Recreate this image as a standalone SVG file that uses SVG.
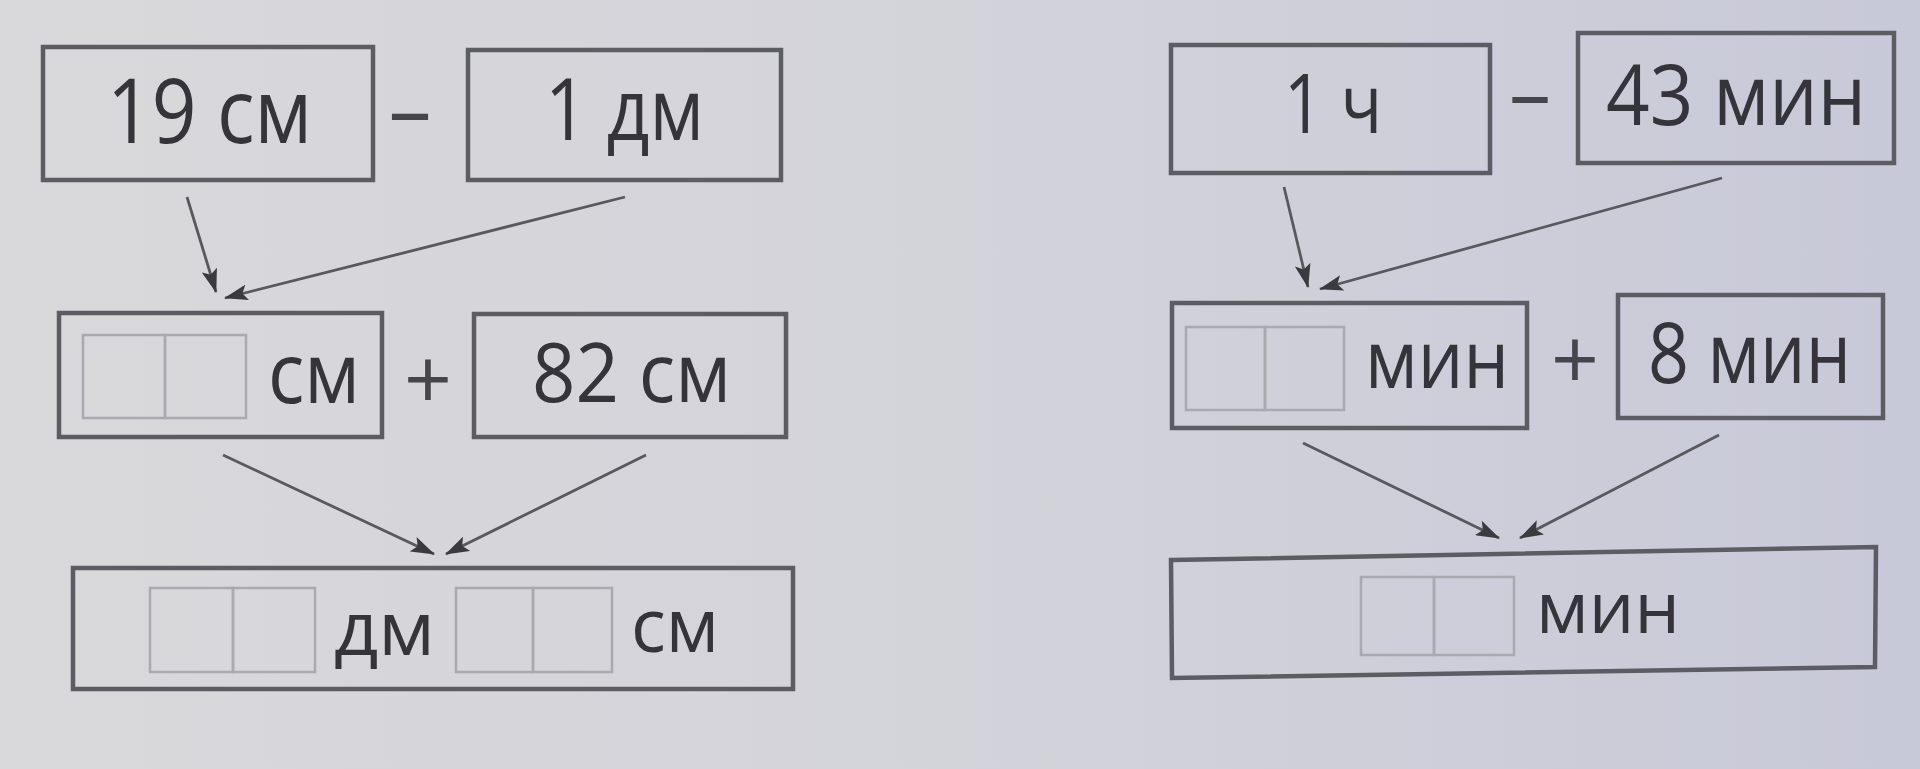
<svg xmlns="http://www.w3.org/2000/svg" width="1920" height="769" viewBox="0 0 1920 769">
<defs>
<linearGradient id="bg" x1="0" y1="0" x2="1" y2="0">
<stop offset="0" stop-color="#d9d8da"/>
<stop offset="0.5" stop-color="#d3d3da"/>
<stop offset="1" stop-color="#c8c9d8"/>
</linearGradient>
<marker id="ah" viewBox="0 0 24 16" refX="23" refY="8" markerWidth="24" markerHeight="16" markerUnits="userSpaceOnUse" orient="auto">
<path d="M0,0 L24,8 L0,16 L5,8 Z" fill="#3a3a40"/>
</marker>
</defs>
<style>
.box{fill:none;stroke:#5c5c63;stroke-width:4.5}
.cell{fill:none;stroke:#a9a9b0;stroke-width:2.5}
.t{font-family:"Open Sans","Noto Sans","Liberation Sans",sans-serif;font-weight:500;fill:#34343a}
.op{font-family:"Open Sans","Noto Sans","Liberation Sans",sans-serif;font-weight:500;fill:#45454b}
.arr{fill:none;stroke:#58585f;stroke-width:2.8;marker-end:url(#ah)}
</style>
<rect width="1920" height="769" fill="url(#bg)"/>

<g id="n-19cm">
<rect class="box" x="43" y="47" width="330" height="133"/>
<text class="t" x="107" y="143" font-size="90" textLength="205" lengthAdjust="spacingAndGlyphs">19 см</text>
</g>
<g id="op-minus-left"><text class="op" x="410" y="140" font-size="86" text-anchor="middle">–</text></g>
<g id="n-1dm">
<rect class="box" x="468" y="50" width="313" height="130"/>
<text class="t" x="545" y="140" font-size="86" textLength="159" lengthAdjust="spacingAndGlyphs">1 дм</text>
</g>

<g id="n-blank-cm">
<rect class="box" x="59" y="313" width="323" height="124"/>
<rect class="cell" x="83" y="335" width="82" height="83"/>
<rect class="cell" x="165" y="335" width="81" height="83"/>
<text class="t" x="268" y="403" font-size="84" textLength="92" lengthAdjust="spacingAndGlyphs">см</text>
</g>
<g id="op-plus-left"><text class="op" x="428" y="409" font-size="84" text-anchor="middle">+</text></g>
<g id="n-82cm">
<rect class="box" x="474" y="314" width="312" height="123"/>
<text class="t" x="532" y="402" font-size="83" textLength="199" lengthAdjust="spacingAndGlyphs">82 см</text>
</g>

<g id="n-result-left">
<rect class="box" x="73" y="568" width="720" height="121"/>
<rect class="cell" x="150" y="588" width="83" height="84"/>
<rect class="cell" x="233" y="588" width="82" height="84"/>
<text class="t" x="334" y="655" font-size="75" textLength="101" lengthAdjust="spacingAndGlyphs">дм</text>
<rect class="cell" x="456" y="588" width="77" height="84"/>
<rect class="cell" x="533" y="588" width="79" height="84"/>
<text class="t" x="631" y="652" font-size="75" textLength="88" lengthAdjust="spacingAndGlyphs">см</text>
</g>

<g id="n-1h">
<rect class="box" x="1171" y="45" width="319" height="128"/>
<text class="t" x="1284" y="133" font-size="82" textLength="98" lengthAdjust="spacingAndGlyphs">1 ч</text>
</g>
<g id="op-minus-right"><text class="op" x="1530" y="123" font-size="84" text-anchor="middle">–</text></g>
<g id="n-43min">
<rect class="box" x="1578" y="33" width="316" height="130"/>
<text class="t" x="1606" y="125" font-size="84" textLength="260" lengthAdjust="spacingAndGlyphs">43 мин</text>
</g>

<g id="n-blank-min">
<rect class="box" x="1172" y="303" width="355" height="125"/>
<rect class="cell" x="1186" y="327" width="79" height="83"/>
<rect class="cell" x="1265" y="327" width="79" height="83"/>
<text class="t" x="1365" y="388" font-size="80" textLength="144" lengthAdjust="spacingAndGlyphs">мин</text>
</g>
<g id="op-plus-right"><text class="op" x="1575" y="389" font-size="84" text-anchor="middle">+</text></g>
<g id="n-8min">
<rect class="box" x="1618" y="295" width="265" height="123"/>
<text class="t" x="1648" y="383" font-size="84" textLength="203" lengthAdjust="spacingAndGlyphs">8 мин</text>
</g>

<g id="n-result-right">
<polygon class="box" points="1171,560 1876,547 1875,667 1172,678"/>
<rect class="cell" x="1361" y="577" width="73" height="78"/>
<rect class="cell" x="1434" y="577" width="80" height="78"/>
<text class="t" x="1536" y="633" font-size="72" textLength="144" lengthAdjust="spacingAndGlyphs">мин</text>
</g>

<g id="connectors">
<line class="arr" x1="187" y1="197" x2="216" y2="292"/>
<line class="arr" x1="625" y1="197" x2="225" y2="298"/>
<line class="arr" x1="223" y1="455" x2="434" y2="554"/>
<line class="arr" x1="646" y1="455" x2="446" y2="554"/>
<line class="arr" x1="1284" y1="187" x2="1308" y2="287"/>
<line class="arr" x1="1722" y1="178" x2="1320" y2="289"/>
<line class="arr" x1="1303" y1="443" x2="1499" y2="538"/>
<line class="arr" x1="1719" y1="435" x2="1520" y2="538"/>
</g>
</svg>
